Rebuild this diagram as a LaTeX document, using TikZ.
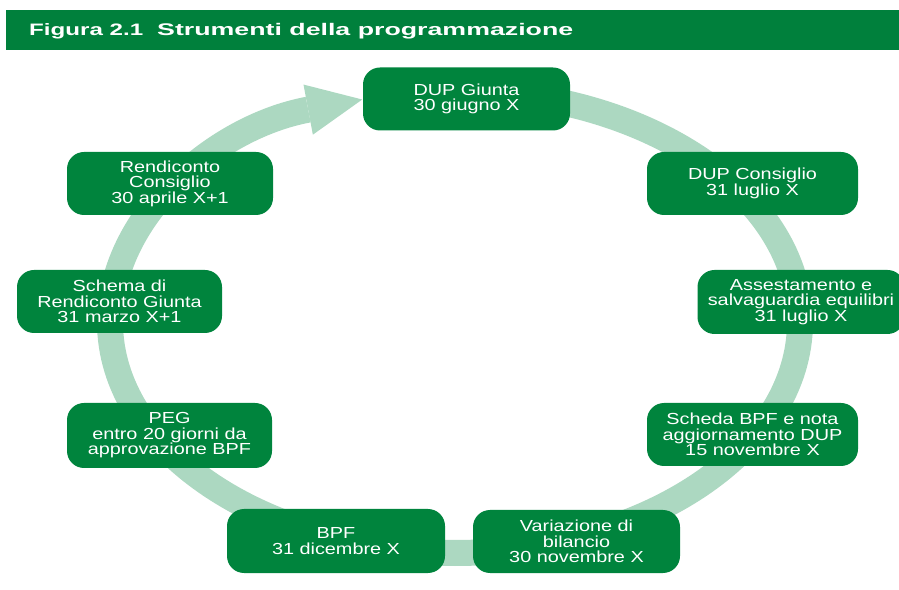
\documentclass[tikz,border=0pt]{standalone}
\usepackage{fontspec}
\usepackage{graphicx}
\setmainfont{Liberation Sans}
\newfontfamily\boxfont[FakeStretch=1.24]{Liberation Sans}
\usetikzlibrary{arrows.meta}
\definecolor{boxgreen}{RGB}{0,132,61}
\definecolor{bandgreen}{RGB}{0,128,60}
\definecolor{ringgreen}{RGB}{172,216,193}
\tikzset{
  stepbox/.style={fill=boxgreen, draw=none, rounded corners=17pt,
    minimum width=207pt, minimum height=63pt, inner sep=0pt,
    text=white, align=center, font={\boxfont\fontsize{16}{15.5}\selectfont}},
  ringpath/.style={draw=ringgreen, line width=26pt,
    -{Triangle[length=55pt,width=51pt,line width=0pt]}},
  titletext/.style={text=white, inner sep=0pt, anchor=base west}
}
\begin{document}
\begin{tikzpicture}[x=1pt,y=1pt]
\useasboundingbox (0,0) rectangle (899,589);
% title band
\fill[bandgreen] (6,539) rectangle (899,579);
\node[titletext] (fig) at (29,553) {\resizebox{114pt}{12pt}{\bfseries Figura 2.1}};
\node[titletext] (ttl) at (157,553) {\resizebox{416pt}{12.2pt}{\bfseries Strumenti della programmazione}};
% ring
\coordinate (ringC) at (455,267);
\draw[ringpath] (ringC) ++(90:345 and 231)
  arc[start angle=90, end angle=-254.4, x radius=345, y radius=231];
% boxes
\node[stepbox] (dupg) at (466.5,490) {DUP Giunta\\30 giugno X};
\node[stepbox, minimum width=211pt] (dupc) at (752.5,405.5) {DUP Consiglio\\31 luglio X};
\node[stepbox, minimum height=64pt] (ass) at (801,287) {Assestamento e\\salvaguardia equilibri\\31 luglio X};
\node[stepbox, minimum width=211pt] (sch) at (752.5,154.5) {Scheda BPF e nota\\aggiornamento DUP\\15 novembre X};
\node[stepbox] (var) at (576.5,47.5) {Variazione di\\bilancio\\30 novembre X};
\node[stepbox, minimum width=218pt, minimum height=64pt] (bpf) at (336,48) {BPF\\31 dicembre X};
\node[stepbox, minimum width=205pt, minimum height=65pt] (peg) at (169.5,153.5) {PEG\\entro 20 giorni da\\approvazione BPF};
\node[stepbox, minimum width=205pt] (schr) at (119.5,287.5) {Schema di\\Rendiconto Giunta\\31 marzo X+1};
\node[stepbox, minimum width=206pt] (rend) at (170,405.5) {Rendiconto\\Consiglio\\30 aprile X+1};
\end{tikzpicture}
\end{document}
